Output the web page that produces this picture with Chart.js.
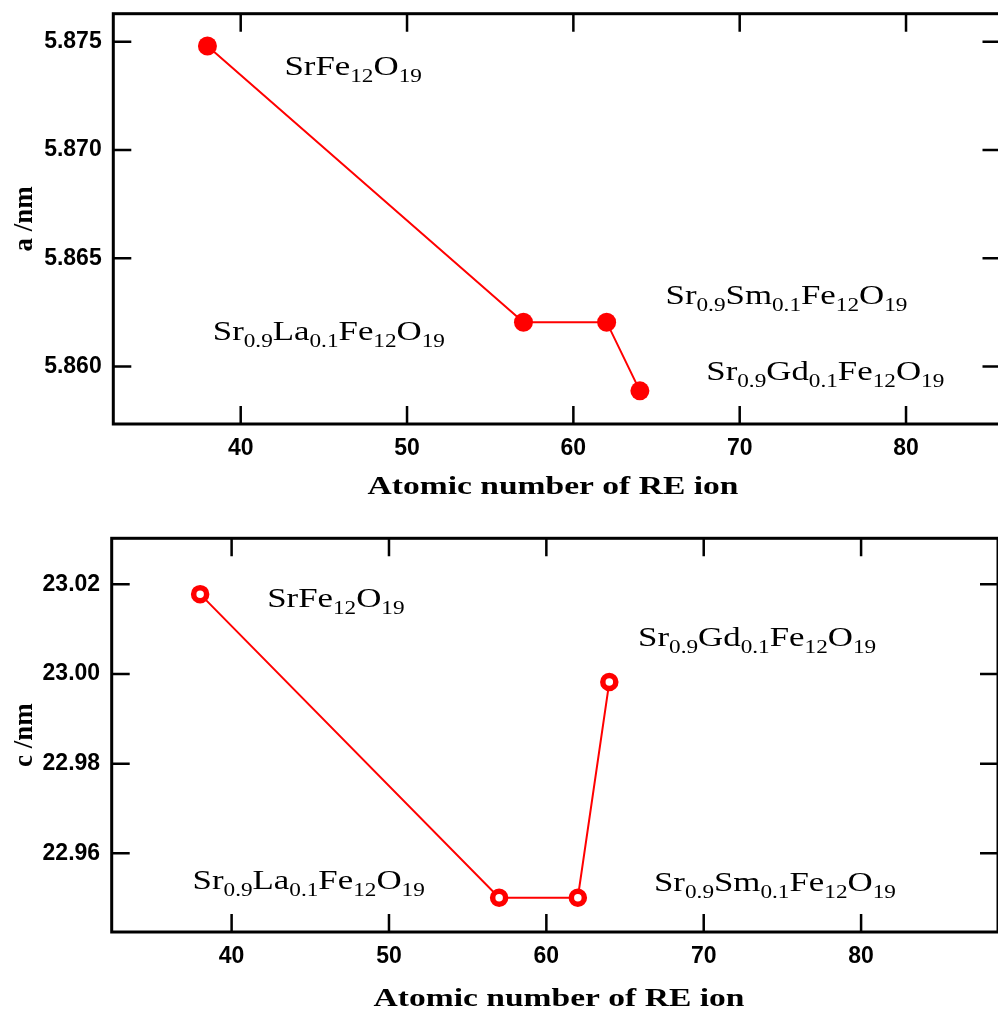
<!DOCTYPE html>
<html>
<head>
<meta charset="utf-8">
<script src="https://cdn.jsdelivr.net/npm/chart.js@4.4.0/dist/chart.umd.min.js"></script>
<style>
  html, body { margin: 0; padding: 0; background: #ffffff; overflow: hidden; }
  #wrap { position: relative; width: 1010px; height: 1013px; }
  canvas { position: absolute; left: 0; }
</style>
</head>
<body>
<div id="wrap">
  <canvas id="chartA" width="1010" height="505" style="top:0;width:1010px;height:505px"></canvas>
  <canvas id="chartC" width="1010" height="508" style="top:505px;width:1010px;height:508px"></canvas>
</div>
<script>
// ---- data ----
const atomicNumbers = [38, 57, 62, 64];
const latticeA = [5.8748, 5.86205, 5.86205, 5.85888];
const latticeC = [23.0178, 22.9501, 22.9501, 22.9982];
const xTickValues = [40, 50, 60, 70, 80];
const aTickValues = [5.860, 5.865, 5.870, 5.875];
const cTickValues = [22.96, 22.98, 23.00, 23.02];
const xTitle = 'Atomic number of RE ion';
const aTitle = 'a /nm';
const cTitle = 'c /nm';
// compound labels, anchored in data coordinates (left edge, baseline)
const compoundsA = [
  { text: 'SrFe_{12}O_{19}', x: 42.63, y: 5.87345 },
  { text: 'Sr_{0.9}La_{0.1}Fe_{12}O_{19}', x: 38.32, y: 5.86122 },
  { text: 'Sr_{0.9}Sm_{0.1}Fe_{12}O_{19}', x: 65.54, y: 5.86290 },
  { text: 'Sr_{0.9}Gd_{0.1}Fe_{12}O_{19}', x: 67.99, y: 5.85938 }
];
const compoundsC = [
  { text: 'SrFe_{12}O_{19}', x: 42.26, y: 23.0149 },
  { text: 'Sr_{0.9}Gd_{0.1}Fe_{12}O_{19}', x: 65.83, y: 23.0062 },
  { text: 'Sr_{0.9}La_{0.1}Fe_{12}O_{19}', x: 37.52, y: 22.9521 },
  { text: 'Sr_{0.9}Sm_{0.1}Fe_{12}O_{19}', x: 66.84, y: 22.9517 }
];

const SERIF = '"Liberation Serif", "Times New Roman", serif';
const SANS = '"Liberation Sans", Arial, sans-serif';
const STRETCH = 1.29;

function parseFormula(s) {
  const parts = [];
  const re = /_\{([^}]*)\}/g;
  let last = 0, m;
  while ((m = re.exec(s)) !== null) {
    if (m.index > last) parts.push({ t: s.slice(last, m.index), sub: false });
    parts.push({ t: m[1], sub: true });
    last = re.lastIndex;
  }
  if (last < s.length) parts.push({ t: s.slice(last), sub: false });
  return parts;
}

const framePlugin = {
  id: 'frameTicks',
  afterDraw(chart) {
    const { ctx, chartArea: a } = chart;
    const xs = chart.scales.x, ys = chart.scales.y;
    ctx.save();
    ctx.strokeStyle = '#000';
    ctx.lineWidth = 2.5;
    const L = 18;
    xs.ticks.forEach(t => {
      const px = xs.getPixelForValue(t.value);
      ctx.beginPath();
      ctx.moveTo(px, a.bottom); ctx.lineTo(px, a.bottom - L);
      ctx.moveTo(px, a.top); ctx.lineTo(px, a.top + L);
      ctx.stroke();
    });
    ys.ticks.forEach(t => {
      const py = ys.getPixelForValue(t.value);
      ctx.beginPath();
      ctx.moveTo(a.left, py); ctx.lineTo(a.left + L, py);
      ctx.moveTo(a.right, py); ctx.lineTo(a.right - L, py);
      ctx.stroke();
    });
    ctx.lineWidth = 3;
    ctx.strokeRect(a.left, a.top, a.right - a.left, a.bottom - a.top);
    ctx.restore();
  }
};

const labelPlugin = {
  id: 'compoundLabels',
  afterDraw(chart, args, opts) {
    const { ctx } = chart;
    const xs = chart.scales.x, ys = chart.scales.y;
    ctx.save();
    ctx.fillStyle = '#000';
    ctx.textBaseline = 'alphabetic';
    ctx.textAlign = 'left';
    (opts.items || []).forEach(item => {
      const px = xs.getPixelForValue(item.x);
      const py = ys.getPixelForValue(item.y);
      ctx.save();
      ctx.translate(px, py);
      ctx.scale(STRETCH, 1);
      let cx = 0;
      parseFormula(item.text).forEach(p => {
        if (p.sub) {
          ctx.font = '18px ' + SERIF;
          ctx.fillText(p.t, cx, 7);
        } else {
          ctx.font = '27px ' + SERIF;
          ctx.fillText(p.t, cx, 0);
        }
        cx += ctx.measureText(p.t).width;
      });
      ctx.restore();
    });
    // x-axis title (horizontally stretched like the reference)
    if (opts.xTitle) {
      ctx.save();
      ctx.font = 'bold 26px ' + SERIF;
      ctx.textAlign = 'center';
      ctx.translate(opts.xTitleCenter, opts.xTitleBaseline);
      ctx.scale(STRETCH, 1);
      ctx.fillText(opts.xTitle, 0, 0);
      ctx.restore();
    }
    ctx.restore();
  }
};

function makeChart(canvasId, cfg) {
  const H = cfg.height;
  return new Chart(document.getElementById(canvasId), {
    type: 'line',
    data: {
      datasets: [{
        data: atomicNumbers.map((x, i) => ({ x: x, y: cfg.values[i] })),
        borderColor: '#ff0000',
        borderWidth: 2,
        tension: 0,
        fill: false,
        pointRadius: cfg.pointRadius,
        pointBorderWidth: cfg.pointBorderWidth,
        pointBackgroundColor: cfg.pointFill,
        pointBorderColor: '#ff0000',
        clip: false
      }]
    },
    options: {
      responsive: false,
      animation: false,
      devicePixelRatio: 1,
      layout: { padding: { top: cfg.top, right: 1010 - cfg.right, left: 0, bottom: 0 } },
      plugins: {
        legend: { display: false },
        tooltip: { enabled: false },
        compoundLabels: {
          items: cfg.labels,
          xTitle: xTitle,
          xTitleCenter: cfg.xTitleCenter,
          xTitleBaseline: cfg.xTitleBaseline
        }
      },
      scales: {
        x: {
          type: 'linear',
          min: cfg.xMin, max: cfg.xMax,
          grid: { display: false, drawTicks: false },
          border: { display: false },
          afterBuildTicks: s => { s.ticks = xTickValues.map(v => ({ value: v })); },
          afterFit: s => { s.height = H - cfg.bottom; s.paddingLeft = 0; s.paddingRight = 0; },
          ticks: {
            autoSkip: false, maxRotation: 0, color: '#000', padding: 11,
            font: { family: SANS, size: 23, weight: 'bold' },
            callback: v => String(v)
          },
          title: { display: false }
        },
        y: {
          type: 'linear',
          min: cfg.yMin, max: cfg.yMax,
          grid: { display: false, drawTicks: false },
          border: { display: false },
          afterBuildTicks: s => { s.ticks = cfg.yTicks.map(v => ({ value: v })); },
          afterFit: s => { s.width = cfg.left; s.paddingTop = 0; s.paddingBottom = 0; },
          ticks: {
            autoSkip: false, color: '#000', padding: 11.6,
            font: { family: SANS, size: 23, weight: 'bold' },
            callback: v => v.toFixed(cfg.decimals)
          },
          title: {
            display: true, text: cfg.yTitle, color: '#000',
            font: { family: SERIF, size: 27, weight: 'bold' },
            padding: { top: 9, bottom: 0 }
          }
        }
      }
    },
    plugins: [framePlugin, labelPlugin]
  });
}

makeChart('chartA', {
  height: 505, top: 13.7, bottom: 424, left: 113.3, right: 1003,
  xMin: 32.34, xMax: 85.68, yMin: 5.85735, yMax: 5.87629,
  values: latticeA, yTicks: aTickValues, decimals: 3, yTitle: aTitle,
  pointRadius: 9.5, pointBorderWidth: 0, pointFill: '#ff0000',
  labels: compoundsA, xTitleCenter: 553, xTitleBaseline: 494
});

makeChart('chartC', {
  height: 508, top: 33.3, bottom: 427, left: 111.7, right: 1003,
  xMin: 32.38, xMax: 88.7, yMin: 22.94245, yMax: 23.03026,
  values: latticeC, yTicks: cTickValues, decimals: 2, yTitle: cTitle,
  pointRadius: 6.5, pointBorderWidth: 5.5, pointFill: '#ffffff',
  labels: compoundsC, xTitleCenter: 559, xTitleBaseline: 1006 - 505
});
</script>
</body>
</html>
